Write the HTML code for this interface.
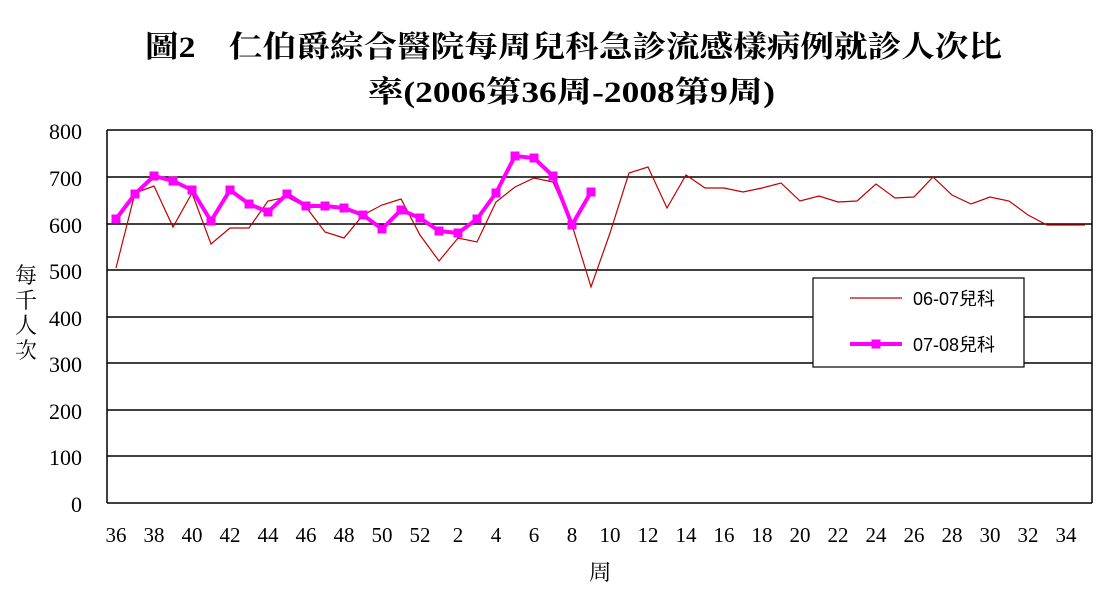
<!DOCTYPE html>
<html><head><meta charset="utf-8"><style>body{margin:0;background:#fff}svg{display:block}</style></head><body>
<svg width="1102" height="594" xmlns="http://www.w3.org/2000/svg">
<rect width="1102" height="594" fill="#fff"/>
<g font-family="'Liberation Serif','Noto Serif CJK SC',serif" font-weight="bold" font-size="30" fill="#000">
<text x="145" y="57" textLength="857" lengthAdjust="spacingAndGlyphs">圖2　仁伯爵綜合醫院每周兒科急診流感樣病例就診人次比</text>
<text x="368" y="102" textLength="407" lengthAdjust="spacingAndGlyphs">率(2006第36周-2008第9周)</text>
</g>
<g stroke="#000" stroke-width="1.5">
<line x1="107" y1="130" x2="1092" y2="130"/>
<line x1="107" y1="177" x2="1092" y2="177"/>
<line x1="107" y1="224" x2="1092" y2="224"/>
<line x1="107" y1="270" x2="1092" y2="270"/>
<line x1="107" y1="317" x2="1092" y2="317"/>
<line x1="107" y1="363" x2="1092" y2="363"/>
<line x1="107" y1="410" x2="1092" y2="410"/>
<line x1="107" y1="456" x2="1092" y2="456"/>
<line x1="107" y1="503" x2="1092" y2="503"/>
<line x1="107" y1="130" x2="107" y2="503"/>
<line x1="1092" y1="130" x2="1092" y2="503"/>
</g>
<g font-family="'Liberation Serif',serif" font-size="22" fill="#000" text-anchor="end">
<text x="82" y="139">800</text><text x="82" y="186">700</text><text x="82" y="233">600</text><text x="82" y="279">500</text><text x="82" y="326">400</text><text x="82" y="372">300</text><text x="82" y="419">200</text><text x="82" y="465">100</text><text x="82" y="512">0</text>
</g>
<g font-family="'Liberation Serif',serif" font-size="21" fill="#000" text-anchor="middle">
<text x="116" y="542">36</text><text x="154" y="542">38</text><text x="192" y="542">40</text><text x="230" y="542">42</text><text x="268" y="542">44</text><text x="306" y="542">46</text><text x="344" y="542">48</text><text x="382" y="542">50</text><text x="420" y="542">52</text><text x="458" y="542">2</text><text x="496" y="542">4</text><text x="534" y="542">6</text><text x="572" y="542">8</text><text x="610" y="542">10</text><text x="648" y="542">12</text><text x="686" y="542">14</text><text x="724" y="542">16</text><text x="762" y="542">18</text><text x="800" y="542">20</text><text x="838" y="542">22</text><text x="876" y="542">24</text><text x="914" y="542">26</text><text x="952" y="542">28</text><text x="990" y="542">30</text><text x="1028" y="542">32</text><text x="1066" y="542">34</text>
</g>
<g font-family="'Liberation Serif','Noto Serif CJK TC',serif" font-size="22" fill="#000" text-anchor="middle">
<text x="600" y="580">周</text>
<text x="26" y="283">每</text><text x="26" y="308">千</text><text x="26" y="333">人</text><text x="26" y="358">次</text>
</g>
<polyline fill="none" stroke="#c00000" stroke-width="1.2" points="116,268 135,193 154,186 173,227 192,193 211,244 230,228 249,228 268,201 287,197 306,207 325,232 344,238 363,215 382,205 401,199 420,235 439,261 458,238 477,242 496,202 515,187 534,178 553,182 572,225 591,287 610,233 629,173 648,167 667,208 686,175 705,188 724,188 743,192 762,188 781,183 800,201 819,196 838,202 857,201 876,184 895,198 914,197 933,177 952,195 971,204 990,197 1009,201 1028,215 1047,225 1066,225 1085,225"/>
<g fill="#ff00ff">
<polyline fill="none" stroke="#ff00ff" stroke-width="4" points="116,219 135,194 154,176 173,181 192,190 211,221 230,190 249,204 268,212 287,194 306,206 325,206 344,208 363,215 382,229 401,210 420,218 439,231 458,233 477,219 496,193 515,156 534,158 553,176 572,225 591,192"/>
<g transform="translate(-4.5,-4.5)">
<rect x="116" y="219" width="9" height="9"/><rect x="135" y="194" width="9" height="9"/><rect x="154" y="176" width="9" height="9"/><rect x="173" y="181" width="9" height="9"/><rect x="192" y="190" width="9" height="9"/><rect x="211" y="221" width="9" height="9"/><rect x="230" y="190" width="9" height="9"/><rect x="249" y="204" width="9" height="9"/><rect x="268" y="212" width="9" height="9"/><rect x="287" y="194" width="9" height="9"/><rect x="306" y="206" width="9" height="9"/><rect x="325" y="206" width="9" height="9"/><rect x="344" y="208" width="9" height="9"/><rect x="363" y="215" width="9" height="9"/><rect x="382" y="229" width="9" height="9"/><rect x="401" y="210" width="9" height="9"/><rect x="420" y="218" width="9" height="9"/><rect x="439" y="231" width="9" height="9"/><rect x="458" y="233" width="9" height="9"/><rect x="477" y="219" width="9" height="9"/><rect x="496" y="193" width="9" height="9"/><rect x="515" y="156" width="9" height="9"/><rect x="534" y="158" width="9" height="9"/><rect x="553" y="176" width="9" height="9"/><rect x="572" y="225" width="9" height="9"/><rect x="591" y="192" width="9" height="9"/>
</g>
</g>
<rect x="813" y="278" width="211" height="89" fill="#fff" stroke="#000" stroke-width="1.2"/>
<line x1="850" y1="298" x2="902" y2="298" stroke="#c00000" stroke-width="1.2"/>
<line x1="850" y1="344" x2="902" y2="344" stroke="#ff00ff" stroke-width="4"/>
<rect x="871.5" y="339.5" width="9" height="9" fill="#ff00ff"/>
<g font-family="'Liberation Sans','Noto Sans CJK TC',sans-serif" font-size="18" fill="#000">
<text x="913" y="305">06-07兒科</text>
<text x="913" y="351">07-08兒科</text>
</g>
</svg>
</body></html>
